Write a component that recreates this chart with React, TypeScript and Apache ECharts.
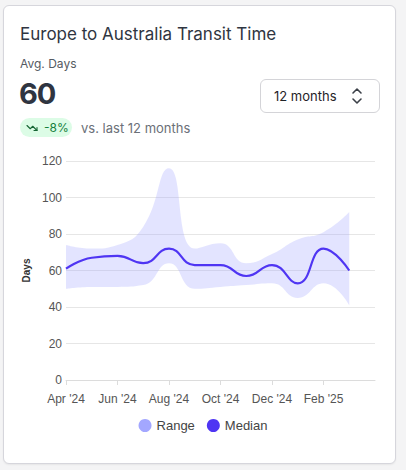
import React, { useEffect, useRef } from "react";
import * as echarts from "echarts";

const months = ["Apr '24", "May '24", "Jun '24", "Jul '24", "Aug '24", "Sep '24", "Oct '24", "Nov '24", "Dec '24", "Jan '25", "Feb '25", "Mar '25", "Apr '25"];
const median = [61, 67, 68, 64, 72, 63, 63, 57, 63, 53, 72, 60];
const upper = [74, 72, 74, 84, 116, 72, 75, 64, 69, 77, 81, 92];
const lower = [50, 51, 51, 52, 64, 50, 51, 52, 53, 45, 53, 41];
const yTicks = { min: 0, max: 120, interval: 20 };

const RANGE_COLOR = "#a3a7ff";
const MEDIAN_COLOR = "#4f35f3";

export default function App() {
  const ref = useRef<HTMLDivElement>(null);
  useEffect(() => {
    if (!ref.current) return;
    const chart = echarts.init(ref.current, undefined, { renderer: "svg" });
    const band = upper.map((u, i) => u - lower[i]);
    chart.setOption({
      animation: false,
      textStyle: { fontFamily: "'Liberation Sans', Arial, sans-serif" },
      grid: { left: 66, right: 31, top: 161, bottom: 90 },
      legend: {
        top: 414,
        left: "center",
        icon: "circle",
        itemWidth: 13,
        itemHeight: 13,
        itemGap: 12,
        textStyle: { fontSize: 13, color: "#444" },
        data: [
          { name: "Range", itemStyle: { color: RANGE_COLOR } },
          { name: "Median", itemStyle: { color: MEDIAN_COLOR } },
        ],
      },
      xAxis: {
        type: "category",
        data: months,
        boundaryGap: false,
        axisLine: { lineStyle: { color: "#dcdcdc" } },
        axisTick: {
          length: 5,
          lineStyle: { color: "#dcdcdc" },
          interval: (i: number) => i % 2 === 0 && i < 12,
        },
        axisLabel: {
          fontSize: 12,
          color: "#555",
          margin: 13,
          interval: (i: number) => i % 2 === 0 && i < 12,
        },
        splitLine: { show: false },
      },
      yAxis: {
        type: "value",
        min: yTicks.min,
        max: yTicks.max,
        interval: yTicks.interval,
        name: "Days",
        nameLocation: "middle",
        nameGap: 27,
        nameRotate: 90,
        nameTextStyle: { fontSize: 10, fontWeight: "bold", color: "#333" },
        axisLine: { show: false },
        axisTick: { show: false },
        axisLabel: { fontSize: 12, color: "#555", margin: 4 },
        splitLine: { lineStyle: { color: "#e6e6e6" } },
      },
      series: [
        {
          name: "RangeBase",
          type: "line",
          stack: "range",
          data: lower,
          smooth: true,
          symbol: "none",
          lineStyle: { opacity: 0 },
          silent: true,
        },
        {
          name: "Range",
          type: "line",
          stack: "range",
          data: band,
          smooth: true,
          symbol: "none",
          itemStyle: { color: RANGE_COLOR },
          lineStyle: { opacity: 0 },
          areaStyle: { color: RANGE_COLOR, opacity: 0.3 },
        },
        {
          name: "Median",
          type: "line",
          data: median,
          smooth: true,
          symbol: "none",
          itemStyle: { color: MEDIAN_COLOR },
          lineStyle: { color: MEDIAN_COLOR, width: 2.2 },
          z: 5,
        },
      ],
    });
    return () => chart.dispose();
  }, []);

  const font = "Inter, 'Noto Sans', sans-serif";
  return (
    <div style={{ position: "fixed", left: 0, top: 0, width: 406, height: 470, background: "#f4f4f5", fontFamily: font, overflow: "hidden" }}>
      <div style={{ position: "absolute", left: 3, top: 5, width: 391, height: 457, background: "#fff", border: "1px solid #d6d6dc", borderRadius: 6, boxShadow: "0 1px 2px rgba(0,0,0,0.06)" }} />
      <div ref={ref} style={{ position: "absolute", left: 0, top: 0, width: 406, height: 470 }} />
      <div style={{ position: "absolute", left: 20, top: 24, fontSize: 17, lineHeight: "20px", fontWeight: 400, color: "#2f3541", whiteSpace: "nowrap" }}>
        Europe to Australia Transit Time
      </div>
      <div style={{ position: "absolute", left: 20, top: 57, fontSize: 12, lineHeight: "14px", color: "#555a62" }}>Avg. Days</div>
      <div style={{ position: "absolute", left: 19, top: 77, fontSize: 29, lineHeight: "34px", fontWeight: 700, color: "#2f3541", letterSpacing: -1 }}>60</div>
      <div style={{ position: "absolute", left: 20, top: 118, width: 52, height: 19, borderRadius: 10, background: "#dcfce6", display: "flex", alignItems: "center" }}>
        <svg width="12" height="12" viewBox="0 0 24 24" style={{ marginLeft: 6 }} fill="none" stroke="#166534" strokeWidth="2.2" strokeLinecap="round" strokeLinejoin="round">
          <polyline points="22 17 13.5 8.5 8.5 13.5 2 7" />
          <polyline points="16 17 22 17 22 11" />
        </svg>
        <span style={{ marginLeft: 6, fontSize: 12, color: "#15803d" }}>-8%</span>
      </div>
      <div style={{ position: "absolute", left: 81, top: 120, fontSize: 13, lineHeight: "16px", color: "#6b7078" }}>vs. last 12 months</div>
      <div style={{ position: "absolute", left: 260, top: 79, width: 118, height: 32, border: "1px solid #d4d4d8", borderRadius: 6, background: "#fff" }}>
        <span style={{ position: "absolute", left: 13, top: 8, fontSize: 13, lineHeight: "16px", color: "#1f2328" }}>12 months</span>
        <svg width="14" height="18" viewBox="0 0 14 18" style={{ position: "absolute", left: 89, top: 7 }} fill="none" stroke="#3b4048" strokeWidth="1.6" strokeLinecap="round" strokeLinejoin="round">
          <polyline points="3 6 7 2 11 6" />
          <polyline points="3 12 7 16 11 12" />
        </svg>
      </div>
    </div>
  );
}
